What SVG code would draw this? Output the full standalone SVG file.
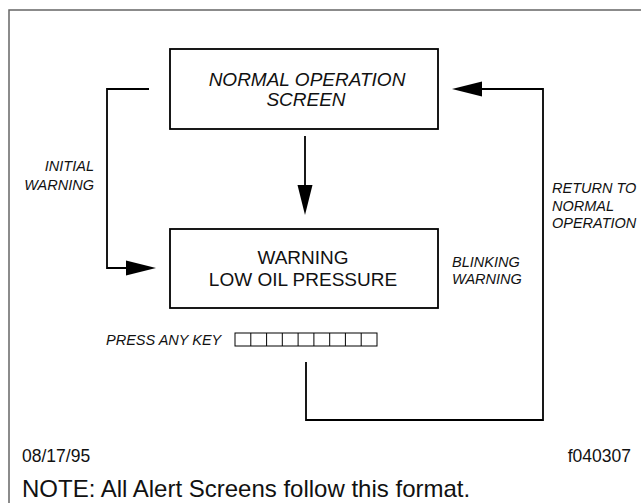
<svg xmlns="http://www.w3.org/2000/svg" width="641" height="503" viewBox="0 0 641 503">
<style>
  .frame{fill:none;stroke:#666;stroke-width:1.5}
  .box{fill:#fff;stroke:#000;stroke-width:1.8}
  .line{fill:none;stroke:#000;stroke-width:1.8}
  .head{fill:#000;stroke:none}
  .key{fill:none;stroke:#000;stroke-width:1}
  text{font-family:"Liberation Sans",Arial,sans-serif;fill:#111}
  .it{font-style:italic}
  .lbl{font-size:14.5px;font-style:italic}
  .mid{text-anchor:middle}
</style>
<rect width="641" height="503" fill="#fff"/>
<path class="frame" d="M9,503 V10 H641"/>
<g id="normal-operation-screen">
  <rect class="box" x="170" y="49" width="268" height="80"/>
  <text class="it mid" x="307" y="86" font-size="19">NORMAL OPERATION</text>
  <text class="it mid" x="306" y="106" font-size="19">SCREEN</text>
</g>
<g id="warning-screen">
  <rect class="box" x="170" y="229" width="268" height="79"/>
  <text class="mid" x="303" y="264" font-size="19">WARNING</text>
  <text class="mid" x="303" y="286" font-size="19">LOW OIL PRESSURE</text>
</g>
<g id="press-any-key">
  <text class="lbl" x="106" y="345">PRESS ANY KEY</text>
  <rect class="key" x="235" y="333" width="142" height="13"/>
  <path class="key" d="M250.8,333V346M266.6,333V346M282.3,333V346M298.1,333V346M313.9,333V346M329.7,333V346M345.4,333V346M361.2,333V346"/>
</g>
<g id="connectors">
  <path class="line" d="M149,89 H107 V268 H127"/>
  <polygon class="head" points="126,260.5 126,275.5 156,268"/>
  <path class="line" d="M305,136 V186"/>
  <polygon class="head" points="297.5,185 312.5,185 305,215"/>
  <path class="line" d="M306,362 V420 H543 V89 H481"/>
  <polygon class="head" points="482,81.5 482,96.5 452,89"/>
</g>
<g id="labels">
  <text class="lbl" x="94" y="171" text-anchor="end">INITIAL</text>
  <text class="lbl" x="94" y="190" text-anchor="end">WARNING</text>
  <text class="lbl" x="452" y="267">BLINKING</text>
  <text class="lbl" x="452" y="284">WARNING</text>
  <text class="lbl" x="552" y="193">RETURN TO</text>
  <text class="lbl" x="552" y="211">NORMAL</text>
  <text class="lbl" x="552" y="228">OPERATION</text>
  <text x="22" y="462" font-size="17.5">08/17/95</text>
  <text x="631" y="462" font-size="17.5" text-anchor="end">f040307</text>
  <text x="22" y="497" font-size="24">NOTE: All Alert Screens follow this format.</text>
</g>
</svg>
